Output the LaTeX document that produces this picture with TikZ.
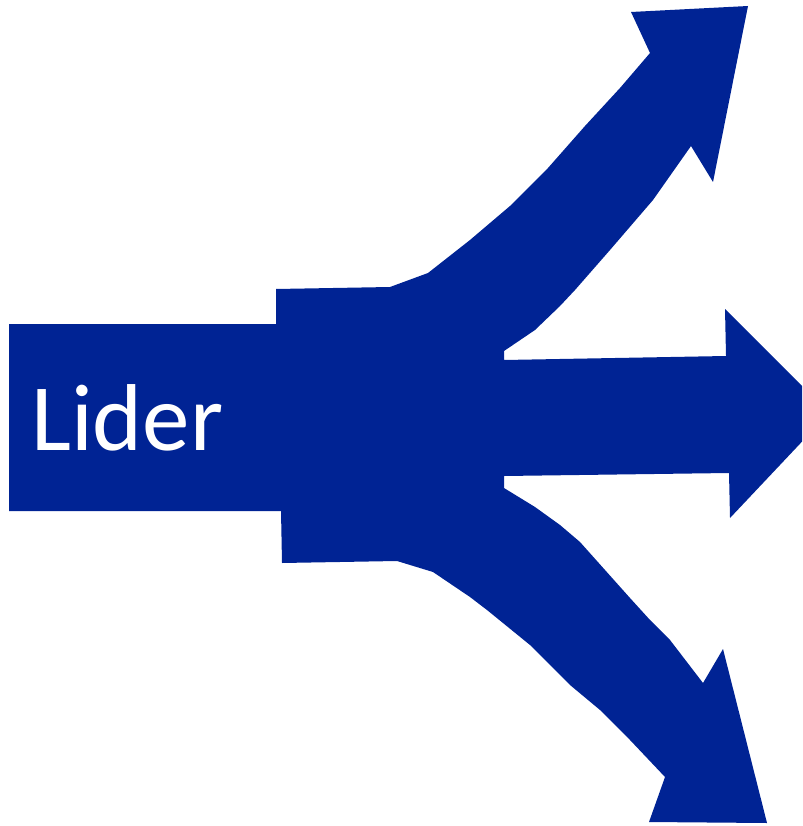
\documentclass[tikz,border=0pt]{standalone}
\usepackage{fontspec}
\setmainfont{Carlito}
\definecolor{arrowblue}{RGB}{0,35,148}
\begin{document}
\begin{tikzpicture}[x=1pt,y=-1pt,
  shapefill/.style={fill=arrowblue,draw=none},
  labeltext/.style={text=white,font=\fontsize{95}{100}\selectfont,inner sep=0pt,anchor=base west}]
\useasboundingbox (0,0) rectangle (802,826);
\clip (0,0) rectangle (802,826);
\path[shapefill]
  (9,324) -- (276,324) -- (276,289) -- (390,287) -- (428,273)
  -- (470,240) -- (510,206) -- (548,168) -- (585,126) -- (620,88) -- (650,53)
  -- (631,12) -- (748,6) -- (713,182) -- (691,146)
  -- (653,200) -- (610,250) -- (575,290) -- (560,306) -- (535,330) -- (504,351)
  -- (504,360) -- (726,356) -- (725,309) -- (829,413) -- (730,518) -- (729,473)
  -- (504,476) -- (504,488) -- (535,507) -- (560,525) -- (580,542) -- (605,570)
  -- (630,598) -- (650,620) -- (670,640) -- (703,683)
  -- (723,649) -- (767,823) -- (649,822) -- (665,777)
  -- (630,740) -- (600,710) -- (570,685) -- (530,645) -- (487,610) -- (470,597)
  -- (433,572) -- (397,561) -- (282,563) -- (281,511) -- (9,511) -- cycle;
\node (lbl) [labeltext] at (31,450) {Lider};
\end{tikzpicture}
\end{document}
